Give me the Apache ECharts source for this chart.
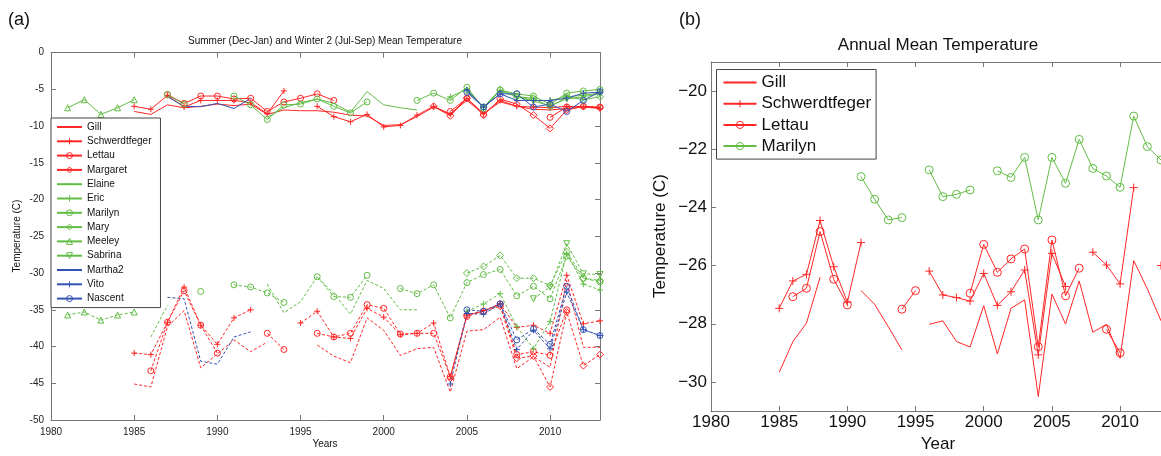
<!DOCTYPE html>
<html><head><meta charset="utf-8">
<script src="https://cdn.jsdelivr.net/npm/echarts@6/dist/echarts.min.js"></script>
<style>html,body{margin:0;padding:0;background:#fff}#c{width:1161px;height:456px}</style>
</head><body><div id="c"></div><script>
// ---------- DATA ----------
const LEFT_NAMES = ['Gill','Schwerdtfeger','Lettau','Margaret','Elaine','Eric','Marilyn','Mary','Meeley','Sabrina','Martha2','Vito','Nascent'];
const RIGHT_NAMES = ['Gill','Schwerdtfeger','Lettau','Marilyn'];
const X_TICKS = [1980, 1985, 1990, 1995, 2000, 2005, 2010];

// Summer (Dec-Jan) means, each array starts at the year given in its mk() call
const gillSummer     = [-8.0,-8.4,-7.1,-7.5,-7.3,-7.0,-7.2,-7.0,-8.4,-7.8,-7.9,-7.9,-8.1,-8.5,-8.6,-9.9,-9.8,-8.7,-7.4,-8.3,-6.5,-8.3,-6.7,-7.3,-7.7,-7.8,-7.6,-7.4,-7.5];
const schwSummer     = [-7.3,-7.7,-5.8,-7.4,-6.5,-6.5,-6.5,-6.8,-8.3,-5.2,null,-7.3,-8.7,-9.4,-8.4,-10.1,-9.9,-8.5,-7.3,-8.4,-6.2,-8.3,-6.5,-7.3,-7.4,-7.5,-7.3,-7.4,-7.6];
const lettauSummer   = [-5.7,-6.9,-5.9,-5.9,-6.3,-6.2,-8.0,-6.7,-6.2,-5.6,-6.5,null,null,null,null,null,null,-8.0,-6.2,-8.4,null,null,null,-8.8,-7.4,-7.3,-7.4];
const margaretSummer = [-7.3,-8.6,-6.2,-8.5,-6.3,-7.0,-8.5,-10.3,-7.8,-7.3,-7.5];
const elaineSummer   = [-8.8,-7.5,-6.8,-6.3,-6.9,-8.1,-5.3,-7.1,-7.5,-7.8];
const ericSummer     = [-6.0,-5.0,-7.5,-5.2,-6.0,-6.5,-6.5,-6.0,-5.8,-5.5];
const marilynSummer  = [-5.7,-7.0,null,null,-5.9,-7.1,-9.1,-7.1,-7.0,-6.3,-7.3,-8.2,-6.7,null,null,-6.5,-5.5,-6.5,-4.7,-7.6,-5.1,-5.6,-5.9,-7.0,-5.5,-5.2,-5.0];
const marySummer     = [-5.2,-7.4,-5.0,-6.0,-6.2,-7.4,-6.0,-6.4,-6.0];
const meeleySummer   = [-7.5,-6.4,-8.4,-7.5,-6.4];
const sabrinaSummer  = [-6.0,-6.6,-7.2,-6.3,-6.0,-5.6];
const martha2Summer  = [-6.0,-7.3,-7.35,-6.9,-7.6,-6.2];
const vitoSummer     = [-5.1,-7.4,-5.6,-6.5,-6.5,-6.5,-6.2,-5.5,-5.4];
const nascentSummer  = [-5.4,-7.4,-5.6,-5.6,-7.4,-7.0,-8.0,-6.5,-5.3];

// Winter 2 (Jul-Sep) means
const gillWinter     = [-45.1,-45.5,-37.3,-35.1,-42.9,-41.0,-39.1,-40.7,-39.4,null,null,-39.8,-41.3,-42.2,-36.1,-37.8,-41.2,-40.3,-40.1,-46.2,-37.9,-37.7,-36.0,-43.0,-41.4,-42.8,-31.0,-40.1,-40.1];
const schwWinter     = [-40.9,-41.1,-36.7,-31.9,-37.1,-39.7,-36.1,-35.0,null,null,-36.8,-35.2,-38.7,-38.9,-34.8,-36.0,-38.4,-38.2,-36.8,-44.1,-35.7,-35.1,-34.2,-37.4,-37.1,-38.2,-30.3,-36.9,-36.5];
const lettauWinter   = [-43.3,-36.7,-32.4,-37.1,-40.9,null,null,-38.2,-40.4,null,-38.2,-38.7,-38.2,-34.3,-34.8,-38.3,-38.2,-38.2,-44.1,-35.9,-35.2,-34.2,-41.1,-40.7,-41.2,-35.0];
const margaretWinter = [-44.3,-35.7,-35.2,-34.5,-41.6,-41.3,-45.5,-35.3,-42.6,-41.1];
const elaineWinter   = [-38.7,-34.4,null,null,null,null,null,-31.5,-35.4,-33.9,-30.5,-32.8,-35.6,-31.0,-32.1,-35.0,-35.0];
const ericWinter     = [-35.2,-34.2,-32.8,-37.3,-40.3,-36.6,-27.3,-31.5,-32.3];
const marilynWinter  = [-32.5,null,-31.6,-31.9,-32.7,-34.0,null,-30.5,-33.2,-33.3,-30.3,null,-32.1,-32.8,-31.6,-36.1,-31.3,-30.2,-29.5,-33.1,-31.8,-33.5,-27.7,-30.7,-31.2];
const maryWinter     = [-30.0,-29.1,-27.6,-30.7,-30.7,-31.7,-27.1,-30.7,-31.0];
const meeleyWinter   = [-35.7,-35.3,-36.4,-35.7,-35.3];
const sabrinaWinter  = [-33.5,-31.9,-26.0,-30.1,-30.2];
const martha2Winter  = [-33.3,-33.5,-42.0,-42.4,-38.7,-38.0];
const vitoWinter     = [-45.1,-35.5,-35.6,-34.2,-40.4,-37.8,-40.3,-32.6,-37.7,-38.5];
const nascentWinter  = [-35.0,-35.2,-34.2,-39.1,-37.6,-39.7,-31.8,-37.7,-38.5];

// Annual means (panel b)
const gillAnnual    = [-29.67,-28.62,-27.98,-26.4,null,null,-26.86,-27.33,-28.1,-28.9,null,-28.02,-27.9,-28.61,-28.8,-27.38,-29.04,-27.47,-27.18,-30.5,-26.98,-28.01,-26.53,-28.29,-28.02,-29.19,-25.83,-26.8,-27.9];
const schwAnnual    = [-27.47,-26.53,-26.3,-24.45,-26.04,-27.26,-25.21,null,null,null,null,-26.19,-27.01,-27.1,-27.22,-26.27,-27.37,-26.9,-26.15,-29.07,-25.58,-26.72,null,-25.54,-25.98,-26.63,-23.32,null,-26.0];
const lettauAnnual  = [-27.07,-26.78,-24.83,-26.47,-27.35,null,null,null,-27.5,-26.86,null,null,null,-26.95,-25.27,-26.23,-25.77,-25.43,-28.79,-25.12,-27.04,-26.09,null,-28.19,-29.0];
const marilynAnnual = [-22.94,-23.72,-24.43,-24.35,null,-22.71,-23.63,-23.55,-23.4,null,-22.74,-22.97,-22.28,-24.43,-22.28,-23.17,-21.66,-22.66,-22.92,-23.31,-20.86,-21.91,-22.37];

// ---------- STYLE / BUILD ----------
const FONT = '"Liberation Sans", Arial, Helvetica, sans-serif';
const RED = '#ff2626', GREEN = '#62bd45', BLUE = '#3553b3';
const AX = '#777777';
const PLUS = 'path://M0,5L10,5M5,0L5,10';
// marker-less series: a plain horizontal stroke (keeps legend icon as a bare line)
const NOSYM = 'path://M0,5L10,5M5,0L5,0.01M5,10L5,9.99';
const HOLLOW = 'rgba(255,255,255,0)';

function fromYear(start, vals) { return vals.map((v, i) => [start + i, v]); }
function mk(name, start, vals, color, sym, dashed, panel, size, rot) {
  return {
    type: 'line', name: name, data: fromYear(start, vals),
    xAxisIndex: panel ? 2 : 0, yAxisIndex: panel ? 2 : 0,
    symbol: sym || NOSYM, showSymbol: !!sym, symbolSize: size || 6, symbolRotate: rot || 0,
    lineStyle: { color: color, width: 1, type: dashed ? [3, 2] : 'solid' },
    itemStyle: { color: HOLLOW, borderColor: color, borderWidth: 1 },
    emphasis: { disabled: true }, animation: false, connectNulls: false, clip: true
  };
}

const series = [
  // summer (solid) - listed first so the legend shows solid style
  mk('Gill', 1985, gillSummer, RED, null, false, 0),
  mk('Schwerdtfeger', 1985, schwSummer, RED, PLUS, false, 0),
  mk('Lettau', 1987, lettauSummer, RED, 'circle', false, 0),
  mk('Margaret', 2003, margaretSummer, RED, 'diamond', false, 0, 7),
  mk('Elaine', 1993, elaineSummer, GREEN, null, false, 0),
  mk('Eric', 2004, ericSummer, GREEN, PLUS, false, 0),
  mk('Marilyn', 1987, marilynSummer, GREEN, 'circle', false, 0),
  mk('Mary', 2005, marySummer, GREEN, 'diamond', false, 0, 7),
  mk('Meeley', 1981, meeleySummer, GREEN, 'triangle', false, 0),
  mk('Sabrina', 2008, sabrinaSummer, GREEN, 'triangle', false, 0, 6, 180),
  mk('Martha2', 1987, martha2Summer, BLUE, null, false, 0),
  mk('Vito', 2005, vitoSummer, BLUE, PLUS, false, 0),
  mk('Nascent', 2005, nascentSummer, BLUE, 'circle', false, 0),
  // winter (dashed)
  mk('Gill', 1985, gillWinter, RED, null, true, 0),
  mk('Schwerdtfeger', 1985, schwWinter, RED, PLUS, true, 0),
  mk('Lettau', 1986, lettauWinter, RED, 'circle', true, 0),
  mk('Margaret', 2004, margaretWinter, RED, 'diamond', true, 0, 7),
  mk('Elaine', 1986, elaineWinter, GREEN, null, true, 0),
  mk('Eric', 2005, ericWinter, GREEN, PLUS, true, 0),
  mk('Marilyn', 1989, marilynWinter, GREEN, 'circle', true, 0),
  mk('Mary', 2005, maryWinter, GREEN, 'diamond', true, 0, 7),
  mk('Meeley', 1981, meeleyWinter, GREEN, 'triangle', true, 0),
  mk('Sabrina', 2009, sabrinaWinter, GREEN, 'triangle', true, 0, 6, 180),
  mk('Martha2', 1987, martha2Winter, BLUE, null, true, 0),
  mk('Vito', 2004, vitoWinter, BLUE, PLUS, true, 0),
  mk('Nascent', 2005, nascentWinter, BLUE, 'circle', true, 0),
  // annual (panel b)
  mk('Gill', 1985, gillAnnual, RED, null, false, 1),
  mk('Schwerdtfeger', 1985, schwAnnual, RED, PLUS, false, 1, 8),
  mk('Lettau', 1986, lettauAnnual, RED, 'circle', false, 1, 8),
  mk('Marilyn', 1991, marilynAnnual, GREEN, 'circle', false, 1, 8)
];

function boxAxis(gridIndex, pos, min, max) {
  return { type: 'value', gridIndex: gridIndex, position: pos, min: min, max: max, interval: 5,
    axisLine: { show: true, onZero: false, lineStyle: { color: AX, width: 1 } },
    axisTick: { show: true, inside: true, length: 5, lineStyle: { color: AX } },
    axisLabel: { show: false }, splitLine: { show: false } };
}
const yearFmt = v => String(v);

const chart = echarts.init(document.getElementById('c'), null, { renderer: 'canvas' });
chart.setOption({
  animation: false,
  backgroundColor: '#ffffff',
  textStyle: { fontFamily: FONT },
  grid: [
    { left: 51, top: 52.7, width: 549, height: 367.3 },
    { left: 711, top: 62, width: 452, height: 349 }
  ],
  xAxis: [
    { type: 'value', gridIndex: 0, min: 1980, max: 2013, interval: 5, position: 'bottom',
      axisLine: { onZero: false, lineStyle: { color: AX } },
      axisTick: { inside: true, length: 5, lineStyle: { color: AX } },
      axisLabel: { fontSize: 10, color: '#222', margin: 7, showMaxLabel: false, fontFamily: FONT, formatter: yearFmt },
      splitLine: { show: false } },
    boxAxis(0, 'top', 1980, 2013),
    { type: 'value', gridIndex: 1, min: 1980, max: 2013, interval: 5, position: 'bottom',
      axisLine: { onZero: false, lineStyle: { color: AX } },
      axisTick: { inside: true, length: 5, lineStyle: { color: AX } },
      axisLabel: { fontSize: 17, color: '#111', margin: 3, showMaxLabel: false, fontFamily: FONT, formatter: yearFmt },
      splitLine: { show: false } },
    boxAxis(1, 'top', 1980, 2013)
  ],
  yAxis: [
    { type: 'value', gridIndex: 0, min: -50, max: 0, interval: 5, position: 'left',
      axisLine: { show: true, onZero: false, lineStyle: { color: AX } },
      axisTick: { show: true, inside: true, length: 5, lineStyle: { color: AX } },
      axisLabel: { fontSize: 10, color: '#222', margin: 7, fontFamily: FONT },
      splitLine: { show: false } },
    boxAxis(0, 'right', -50, 0),
    { type: 'value', gridIndex: 1, min: -31, max: -19, splitNumber: 6, position: 'left',
      axisLine: { show: true, onZero: false, lineStyle: { color: AX } },
      axisTick: { show: true, inside: true, length: 5, lineStyle: { color: AX } },
      axisLabel: { fontSize: 17, color: '#111', margin: 4, showMinLabel: false, showMaxLabel: false, fontFamily: FONT,
        formatter: v => (v < 0 ? '\u2212' + Math.abs(v) : String(v)) },
      splitLine: { show: false } }
  ],
  legend: [
    { orient: 'vertical', left: 51, top: 118, data: LEFT_NAMES, selectedMode: false,
      itemWidth: 25, itemHeight: 7.5, itemGap: 2.3, padding: [3, 9, 3, 5],
      itemStyle: { color: HOLLOW, borderColor: 'inherit', borderWidth: 1 },
      backgroundColor: '#fff', borderColor: '#444', borderWidth: 1, borderRadius: 0,
      textStyle: { fontSize: 10, lineHeight: 12, color: '#111', fontFamily: FONT } },
    { orient: 'vertical', left: 716.5, top: 69.5, data: RIGHT_NAMES, selectedMode: false,
      itemWidth: 33, itemHeight: 9, itemGap: 3.2, padding: [4, 5, 4, 6],
      itemStyle: { color: HOLLOW, borderColor: 'inherit', borderWidth: 1 },
      backgroundColor: '#fff', borderColor: '#444', borderWidth: 1, borderRadius: 0,
      textStyle: { fontSize: 17, lineHeight: 18, color: '#111', fontFamily: FONT } }
  ],
  graphic: [
    { type: 'text', x: 19, y: 20, style: { text: '(a)', font: '18px ' + FONT, fill: '#111', align: 'center', verticalAlign: 'middle' } },
    { type: 'text', x: 690, y: 20, style: { text: '(b)', font: '18px ' + FONT, fill: '#111', align: 'center', verticalAlign: 'middle' } },
    { type: 'text', x: 325, y: 41, style: { text: 'Summer (Dec-Jan) and Winter 2 (Jul-Sep) Mean Temperature', font: '10px ' + FONT, fill: '#111', align: 'center', verticalAlign: 'middle' } },
    { type: 'text', x: 938, y: 45, style: { text: 'Annual Mean Temperature', font: '17px ' + FONT, fill: '#111', align: 'center', verticalAlign: 'middle' } },
    { type: 'text', x: 325, y: 444, style: { text: 'Years', font: '10px ' + FONT, fill: '#111', align: 'center', verticalAlign: 'middle' } },
    { type: 'text', x: 938, y: 444, style: { text: 'Year', font: '17px ' + FONT, fill: '#111', align: 'center', verticalAlign: 'middle' } },
    { type: 'text', x: 17, y: 236, rotation: Math.PI / 2, style: { text: 'Temperature (C)', font: '10px ' + FONT, fill: '#111', align: 'center', verticalAlign: 'middle' } },
    { type: 'text', x: 660, y: 236, rotation: Math.PI / 2, style: { text: 'Temperature (C)', font: '17px ' + FONT, fill: '#111', align: 'center', verticalAlign: 'middle' } }
  ],
  series: series
});
</script></body></html>
